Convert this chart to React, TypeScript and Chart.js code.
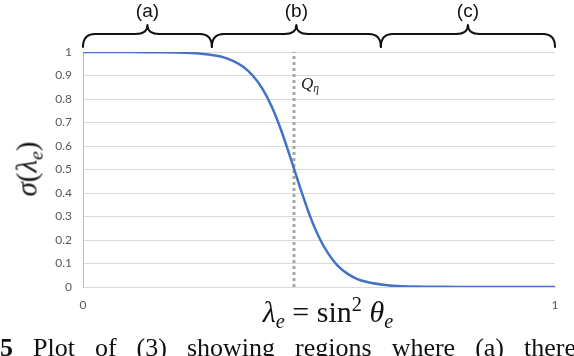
import React, { useEffect, useRef } from "react";
import { Chart, registerables } from "chart.js";

Chart.register(...registerables);

// lambda_e values (x) and sigma(lambda_e) values
const lambdaValues = [0, 0.05, 0.1, 0.15, 0.2, 0.25, 0.28, 0.3, 0.32, 0.34, 0.36, 0.38, 0.4, 0.42, 0.44, 0.46, 0.48, 0.5, 0.52, 0.54, 0.56, 0.58, 0.6, 0.65, 0.7, 0.75, 0.8, 0.9, 1.0];
const sigmaValues = [1.0, 1.0, 1.0, 0.999, 0.998, 0.993, 0.985, 0.976, 0.96, 0.936, 0.899, 0.844, 0.767, 0.666, 0.547, 0.423, 0.307, 0.212, 0.141, 0.09, 0.057, 0.035, 0.022, 0.006, 0.002, 0.001, 0, 0, 0];
const qEta = 0.447;
const regionBounds = [0, 0.273, 0.631, 1];
const regionLabels = ["(a)", "(b)", "(c)"];
const yTickStep = 0.1;
const xTickStep = 1;

const serif = "'Liberation Serif', 'Times New Roman', serif";

const bracePlugin = {
  id: "braces",
  afterDraw(chart: any) {
    const ctx = chart.ctx as CanvasRenderingContext2D;
    const xs = chart.scales.x;
    ctx.save();
    ctx.strokeStyle = "#111";
    ctx.lineWidth = 2;
    ctx.lineCap = "round";
    ctx.lineJoin = "round";
    const yB = 47, yM = 34, yT = 25, r = 12;
    for (let i = 0; i < regionLabels.length; i++) {
      const x1 = xs.getPixelForValue(regionBounds[i]);
      const x2 = xs.getPixelForValue(regionBounds[i + 1]);
      const mid = (x1 + x2) / 2;
      ctx.beginPath();
      ctx.moveTo(x1, yB);
      ctx.quadraticCurveTo(x1, yM, x1 + r, yM);
      ctx.lineTo(mid - r, yM);
      ctx.quadraticCurveTo(mid, yM, mid, yT);
      ctx.quadraticCurveTo(mid, yM, mid + r, yM);
      ctx.lineTo(x2 - r, yM);
      ctx.quadraticCurveTo(x2, yM, x2, yB);
      ctx.stroke();
      ctx.fillStyle = "#111";
      ctx.font = "19px 'Liberation Sans', Arial, sans-serif";
      ctx.textAlign = "center";
      ctx.textBaseline = "middle";
      ctx.fillText(regionLabels[i], mid, 12);
    }
    ctx.restore();
  },
};

export default function App() {
  const ref = useRef<HTMLCanvasElement | null>(null);

  useEffect(() => {
    const canvas = ref.current;
    if (!canvas) return;
    const curve = lambdaValues.map((x, i) => ({ x, y: sigmaValues[i] }));
    const qLine = [
      { x: qEta, y: 0 },
      { x: qEta, y: 1 },
    ];
    const tickFont = { family: "Lato, 'Open Sans', sans-serif", size: 12 };
    const chart = new Chart(canvas, {
      type: "line",
      data: {
        datasets: [
          {
            data: curve,
            borderColor: "#4472C4",
            borderWidth: 2.5,
            pointRadius: 0,
            cubicInterpolationMode: "monotone",
            order: 0,
          },
          {
            data: qLine,
            borderColor: "#a6a6a6",
            borderWidth: 3,
            borderDash: [3, 3],
            pointRadius: 0,
            order: 1,
          },
        ],
      },
      options: {
        responsive: false,
        animation: false,
        layout: { padding: { top: 52, right: 19, left: 0, bottom: 0 } },
        plugins: {
          legend: { display: false },
          tooltip: { enabled: false },
        },
        scales: {
          x: {
            type: "linear",
            min: 0,
            max: 1,
            ticks: {
              stepSize: xTickStep,
              padding: 11,
              color: "#595959",
              font: tickFont,
              maxRotation: 0,
            },
            grid: { display: false, drawTicks: false },
            border: { display: true, color: "#d9d9d9", width: 1 },
            afterFit: (s: any) => {
              s.height = 356 - 287;
            },
          },
          y: {
            min: 0,
            max: 1,
            ticks: {
              stepSize: yTickStep,
              padding: 11,
              color: "#595959",
              font: tickFont,
              autoSkip: false,
              callback: (v: any) => String(Math.round(Number(v) * 10) / 10),
            },
            grid: { color: "#d9d9d9", drawTicks: false, lineWidth: 1 },
            border: { display: true, color: "#bfbfbf", width: 1 },
            afterFit: (s: any) => {
              s.width = 83;
            },
          },
        },
      },
      plugins: [bracePlugin],
    } as any);
    return () => chart.destroy();
  }, []);

  const sub: React.CSSProperties = { fontSize: "0.68em", verticalAlign: "-0.28em", lineHeight: 0 };
  const sup: React.CSSProperties = { fontSize: "0.68em", verticalAlign: "0.55em", lineHeight: 0 };

  return (
    <div
      style={{
        position: "fixed",
        left: 0,
        top: 0,
        width: 574,
        height: 356,
        overflow: "hidden",
        background: "#fff",
      }}
    >
      <canvas ref={ref} width={574} height={356} style={{ position: "absolute", left: 0, top: 0, width: 574, height: 356 }} />
      <div
        style={{
          position: "absolute",
          left: 301,
          top: 75,
          fontFamily: serif,
          fontSize: 17,
          lineHeight: 1,
          color: "#222",
          whiteSpace: "nowrap",
        }}
      >
        <i>Q</i>
        <i style={sub}>η</i>
      </div>
      <div
        style={{
          position: "absolute",
          left: 27,
          top: 169,
          transform: "translate(-50%, -50%) rotate(-90deg)",
          fontFamily: serif,
          fontSize: 29,
          lineHeight: 1,
          color: "#111",
          whiteSpace: "nowrap",
        }}
      >
        <i>σ</i>(<i>λ</i>
        <i style={sub}>e</i>)
      </div>
      <div
        style={{
          position: "absolute",
          left: 328,
          top: 297,
          transform: "translateX(-50%)",
          fontFamily: serif,
          fontSize: 30,
          lineHeight: 1,
          color: "#111",
          whiteSpace: "nowrap",
        }}
      >
        <i>λ</i>
        <i style={sub}>e</i> = sin<span style={sup}>2</span> <i>θ</i>
        <i style={sub}>e</i>
      </div>
      <div
        style={{
          position: "absolute",
          left: 0,
          top: 335,
          width: 576,
          fontFamily: serif,
          fontSize: 26,
          lineHeight: 1,
          color: "#111",
          textAlign: "justify",
          textAlignLast: "justify",
          whiteSpace: "normal",
        }}
      >
        <b>5</b> Plot of (3) showing regions where (a) there
      </div>
    </div>
  );
}
